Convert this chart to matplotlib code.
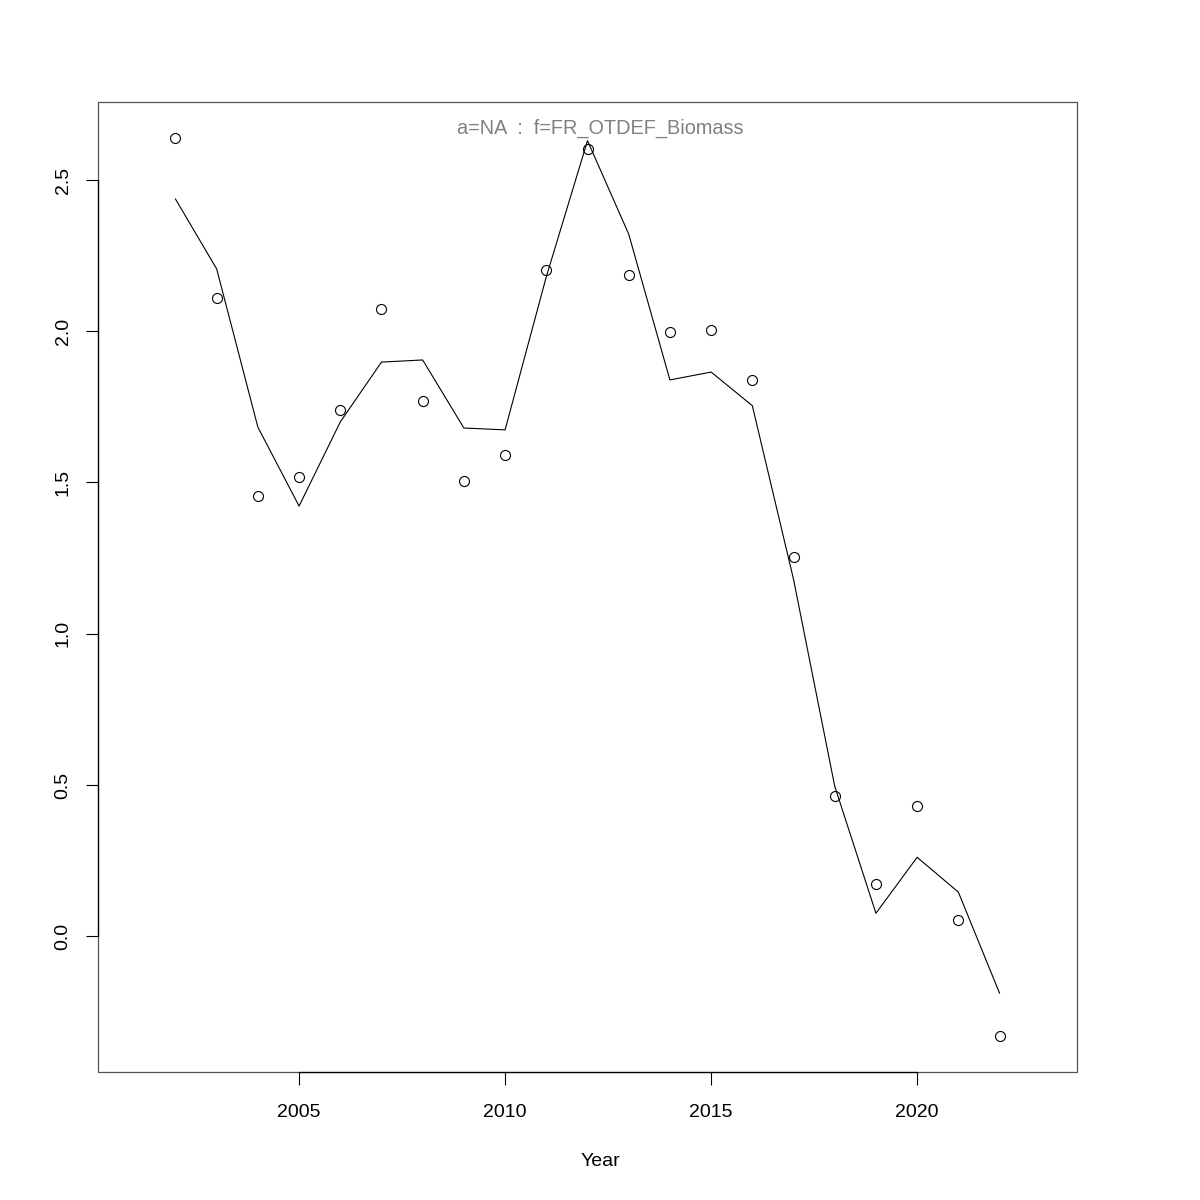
"""
Biomass index by year: observed points and fitted line.
"""

import matplotlib
matplotlib.use("Agg")
import matplotlib.pyplot as plt
from matplotlib.patches import Rectangle

plt.rcParams["font.family"] = ["Liberation Sans", "DejaVu Sans"]

years = list(range(2002, 2023))
observed = [2.639, 2.109, 1.456, 1.518, 1.739, 2.073, 1.771, 1.506, 1.592, 2.202,
            2.603, 2.187, 1.996, 2.004, 1.840, 1.254, 0.464, 0.172, 0.432, 0.054,
            -0.330]
fitted = [2.437, 2.206, 1.683, 1.422, 1.700, 1.898, 1.905, 1.680, 1.674, 2.180,
          2.630, 2.321, 1.839, 1.865, 1.754, 1.180, 0.496, 0.076, 0.261, 0.146,
          -0.188]
x_ticks = [2005, 2010, 2015, 2020]
y_ticks = [0.0, 0.5, 1.0, 1.5, 2.0, 2.5]
title_text = "a=NA  :  f=FR_OTDEF_Biomass"

fig = plt.figure(figsize=(12, 12), dpi=100)
ax = fig.add_axes([98 / 1200, 128 / 1200, 979 / 1200, 970 / 1200])

ax.plot(years, fitted, color="black", linewidth=0.8)
ax.plot(years, observed, linestyle="none", marker="o", markersize=7.2,
        markerfacecolor="none", markeredgecolor="black", markeredgewidth=0.8)

# R-style limits: range +/- 4%
x0, x1 = 2001, 2023
dx = (x1 - x0) * 0.04
ax.set_xlim(x0 - dx, x1 + dx)
y0, y1 = min(observed), max(observed)
dy = (y1 - y0) * 0.04
ax.set_ylim(y0 - dy, y1 + dy)

# grey frame plus black axis lines spanning the ticks only
ax.add_patch(Rectangle((0, 0), 1, 1, transform=ax.transAxes, fill=False,
                       edgecolor="#555555", linewidth=0.9, clip_on=False, zorder=0))
for side in ["top", "right"]:
    ax.spines[side].set_visible(False)
ax.spines["left"].set_bounds(y_ticks[0], y_ticks[-1])
ax.spines["bottom"].set_bounds(x_ticks[0], x_ticks[-1])
for side in ["left", "bottom"]:
    ax.spines[side].set_color("black")
    ax.spines[side].set_linewidth(0.9)

ax.set_xticks(x_ticks)
ax.set_yticks(y_ticks)
ax.set_yticklabels([f"{v:.1f}" for v in y_ticks])
ax.tick_params(axis="both", direction="out", length=9, width=0.8, labelsize=14)
ax.tick_params(axis="x", pad=14)
ax.tick_params(axis="y", pad=10)
for lab in ax.get_yticklabels():
    lab.set_rotation(90)
    lab.set_va("center")

# title and x label are centred on the page, not on the plot box
fig.text(0.5, 1 - 128 / 1200, title_text, ha="center", va="center",
         fontsize=14.3, color="#808080")
fig.text(0.5, 1 - 1162 / 1200, "Year", ha="center", va="center", fontsize=14)

fig.savefig("out.png", dpi=100)
